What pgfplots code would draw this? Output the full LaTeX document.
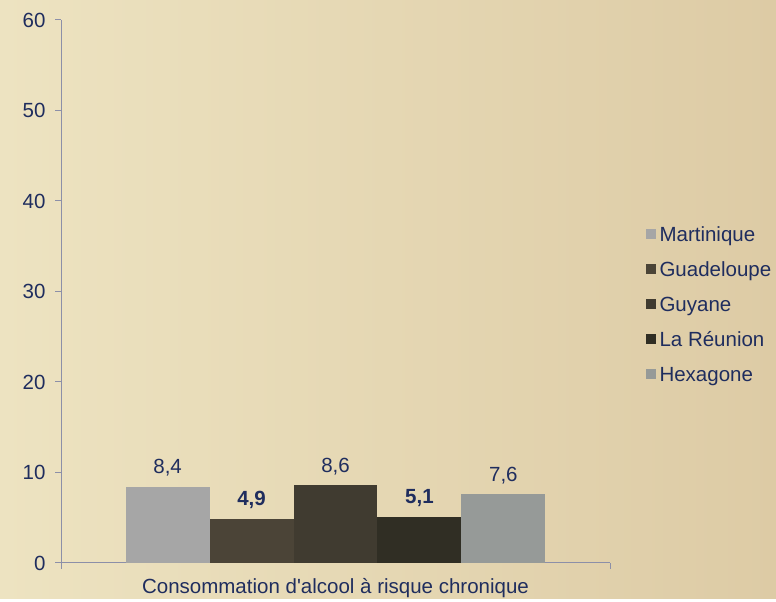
\documentclass[border=0pt]{standalone}
\usepackage{pgfplots}
\pgfplotsset{compat=1.18}
\usepackage{fontspec}
\setmainfont{Liberation Sans}

\definecolor{bgL}{HTML}{EDE3C1}
\definecolor{bgR}{HTML}{DDCBA5}
\definecolor{navy}{HTML}{1F2D5E}
\definecolor{axcol}{HTML}{8C8FA8}
\definecolor{cMart}{HTML}{A6A6A6}
\definecolor{cGuad}{HTML}{4B4437}
\definecolor{cGuy}{HTML}{403B30}
\definecolor{cReu}{HTML}{302E24}
\definecolor{cHex}{HTML}{969A98}

\newcommand{\lbl}{\fontsize{20.5bp}{23bp}\selectfont}

\begin{document}
\begin{tikzpicture}
\shade[left color=bgL, right color=bgR] (0,0) rectangle (776bp,599bp);
\begin{axis}[
    at={(61bp,36bp)}, anchor=south west,
    scale only axis, width=549bp, height=543bp,
    xmin=-3.27, xmax=3.27,
    ymin=0, ymax=60,
    ytick={0,10,...,60},
    xtick={-3.27,3.27}, xticklabels={},
    axis x line*=bottom, axis y line*=left,
    axis line style={draw=axcol, line width=1bp, -},
    tick style={draw=axcol, line width=1bp},
    tick align=outside, major tick length=6bp,
    /pgf/number format/assume math mode=true,
    tick label style={text=navy, font=\lbl},
    yticklabel style={xshift=-6bp},
    xlabel={Consommation d\textquotesingle alcool à risque chronique},
    xlabel style={at={(axis description cs:0.5,0)}, anchor=base, yshift=-31bp,
        text=navy, font=\lbl},
    ybar, bar width=1, bar shift=0pt,
    nodes near coords,
    nodes near coords style={text=navy, anchor=base, yshift=13bp, inner sep=0pt, font=\lbl,
        /pgf/number format/fixed, /pgf/number format/fixed zerofill,
        /pgf/number format/precision=1, /pgf/number format/use comma},
    legend style={at={(1.06,0.472)}, anchor=west, draw=none, fill=none,
        text=navy, font=\lbl,
        row sep=16bp,
        nodes={inner sep=0pt, text height=14.5bp, text depth=4.5bp}},
    legend cell align=left,
    legend image code/.code={\fill[#1] (0bp,-2bp) rectangle (10bp,8bp);},
    clip=false,
]
\addplot[fill=cMart, draw=none] coordinates {(-2,8.4)};
\addlegendentry{\,Martinique}
\addplot[fill=cGuad, draw=none, nodes near coords style={font=\lbl\bfseries}] coordinates {(-1,4.9)};
\addlegendentry{\,Guadeloupe}
\addplot[fill=cGuy, draw=none] coordinates {(0,8.6)};
\addlegendentry{\,Guyane}
\addplot[fill=cReu, draw=none, nodes near coords style={font=\lbl\bfseries}] coordinates {(1,5.1)};
\addlegendentry{\,La Réunion}
\addplot[fill=cHex, draw=none] coordinates {(2,7.6)};
\addlegendentry{\,Hexagone}
\end{axis}
\end{tikzpicture}
\end{document}
